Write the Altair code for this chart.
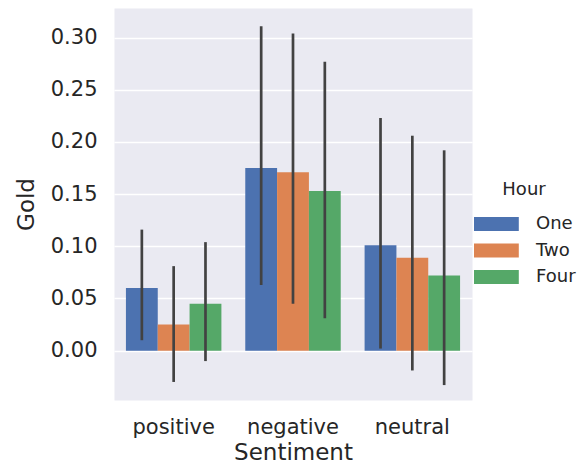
import altair as alt
import pandas as pd

sentiments = ["positive", "negative", "neutral"]
hours = ["One", "Two", "Four"]
gold_one = [0.060, 0.175, 0.101]
gold_two = [0.025, 0.171, 0.089]
gold_four = [0.045, 0.153, 0.072]
low_one = [0.010, 0.063, 0.002]
low_two = [-0.030, 0.045, -0.019]
low_four = [-0.010, 0.031, -0.033]
high_one = [0.116, 0.311, 0.223]
high_two = [0.081, 0.304, 0.206]
high_four = [0.104, 0.277, 0.192]
colors = ["#4c72b0", "#dd8452", "#55a868"]
y_ticks = [0.00, 0.05, 0.10, 0.15, 0.20, 0.25, 0.30]

rows = []
for h, g, lo, hi in zip(hours, [gold_one, gold_two, gold_four],
                        [low_one, low_two, low_four],
                        [high_one, high_two, high_four]):
    for s, gv, l, u in zip(sentiments, g, lo, hi):
        rows.append({"Sentiment": s, "Hour": h, "Gold": gv, "lo": l, "hi": u})
df = pd.DataFrame(rows)

FONT = "DejaVu Sans"
TXT = "#262626"

x_enc = alt.X("Sentiment:N", sort=sentiments,
              scale=alt.Scale(paddingInner=0.2, paddingOuter=0.1),
              axis=alt.Axis(labelAngle=0, ticks=False, domain=False, grid=False,
                            labelFontSize=21, titleFontSize=23, labelPadding=16,
                            titlePadding=4, labelColor=TXT, titleColor=TXT,
                            titleFontWeight="normal", labelFont=FONT, titleFont=FONT))
xo_enc = alt.XOffset("Hour:N", sort=hours, scale=alt.Scale(paddingInner=0, paddingOuter=0))
y_scale = alt.Scale(domain=[-0.0473, 0.3284], nice=False, zero=False)

bars = alt.Chart(df).mark_bar().encode(
    x=x_enc,
    xOffset=xo_enc,
    y=alt.Y("Gold:Q", scale=y_scale, title="Gold",
            axis=alt.Axis(values=y_ticks, format=".2f", ticks=False, domain=False,
                          grid=True, gridColor="white", gridWidth=1.3,
                          labelFontSize=21, titleFontSize=23, labelPadding=17,
                          titlePadding=12, labelColor=TXT, titleColor=TXT,
                          titleFontWeight="normal", labelFont=FONT, titleFont=FONT)),
    y2=alt.datum(0),
    color=alt.Color("Hour:N", sort=hours,
                    scale=alt.Scale(domain=hours, range=colors),
                    legend=alt.Legend(orient="none", legendX=358, legendY=173,
                                      symbolType="M-1,-1H5.4V1H-1Z", symbolSize=196,
                                      symbolStrokeWidth=0, symbolOpacity=1,
                                      labelFontSize=18, titleFontSize=18,
                                      titleFontWeight="normal", titleAnchor="middle",
                                      titleAlign="center", labelColor=TXT, titleColor=TXT,
                                      labelFont=FONT, titleFont=FONT, rowPadding=8.5,
                                      titlePadding=16, labelOffset=46)),
)

errs = alt.Chart(df).mark_rule(color="#424242", strokeWidth=2.7).encode(
    x=x_enc,
    xOffset=xo_enc,
    y=alt.Y("lo:Q", scale=y_scale, title="Gold"),
    y2="hi:Q",
)

chart = alt.layer(bars, errs).properties(
    width=358, height=392,
    autosize=alt.AutoSizeParams(type="none"),
    padding={"left": 106, "top": 0, "right": 106, "bottom": 64},
    background="white",
).configure_view(fill="#eaeaf2", stroke="transparent")

chart.save("out.html", embed_options={"renderer": "svg", "actions": False})
